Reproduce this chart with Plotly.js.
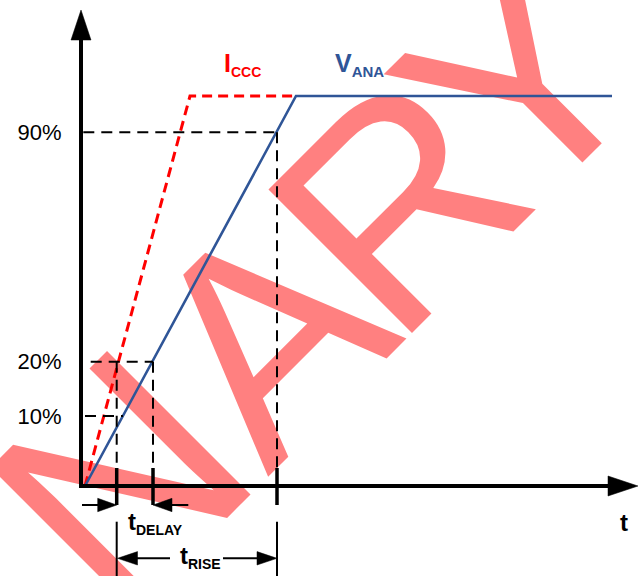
<!DOCTYPE html>
<html>
<head>
<meta charset="utf-8">
<script src="https://cdn.plot.ly/plotly-3.0.1.min.js"></script>
<style>html,body{margin:0;padding:0;background:#fff;}#chart{width:641px;height:576px;}</style>
</head>
<body>
<div id="chart"></div>
<script>
// ---- Signal shapes (time, level) in diagram units ----
const icccTime  = [4, 109, 213];
const icccLevel = [0, 390, 390];
const vanaTime  = [4, 215, 531];
const vanaLevel = [0, 390, 390];

// ---- Threshold levels (y axis ticks) ----
const levelLabels = ['10%', '20%', '90%'];
const levelValues = [70, 124.3, 353.7];

// ---- Marked instants ----
const tIccc20 = 35.7;   // ICCC crosses 20%
const tVana10 = 42;     // VANA crosses 10%
const tVana20 = 72;     // VANA crosses 20%
const tVana90 = 196;    // VANA crosses 90%

// ---- Watermark ----
const watermarkText = 'PRELIMINARY';
const watermarkAdvance = [0.517, 0.543, 0.488, 0.420, 0.252, 0.855, 0.252, 0.646, 0.579, 0.543, 0.487];

const W = 641, H = 576;
const X_RANGE = [-81, 560];
const Y_RANGE = [-90, 486];
const FONT = 'Liberation Sans, Arial, sans-serif';
const BLUE = '#2F5597';
const RED = '#FF0000';

const traces = [];
function line(x, y, color, width, dash) {
  traces.push({type: 'scatter', mode: 'lines', x: x, y: y,
    line: {color: color, width: width, dash: dash || 'solid'}, hoverinfo: 'skip'});
}
function head(tipX, tipY, dx, dy, len, half) {
  const bx = tipX - dx * len, by = tipY - dy * len;
  const px = -dy, py = dx;
  traces.push({type: 'scatter', mode: 'lines', fill: 'toself', fillcolor: '#000',
    x: [tipX, bx + px * half, bx - px * half, tipX],
    y: [tipY, by + py * half, by - py * half, tipY],
    line: {color: '#000', width: 0.5}, hoverinfo: 'skip'});
}

// Signals
line(icccTime, icccLevel, RED, 3, '10px,6px');
line(vanaTime, vanaLevel, BLUE, 2.6);

// Guide lines (dashed)
const G = '11px,7px';
line([2.3, tVana90], [levelValues[2], levelValues[2]], '#000', 2, G);
line([tVana90, tVana90], [levelValues[2], 18], '#000', 2, G);
line([9.7, tVana20], [levelValues[1], levelValues[1]], '#000', 2, G);
line([tIccc20, tIccc20], [levelValues[1], 18], '#000', 2, G);
line([tVana20, tVana20], [levelValues[1], 18], '#000', 2, G);
line([4, tVana10], [levelValues[0], levelValues[0]], '#000', 2, G);

// Bold markers crossing the time axis
[tIccc20, tVana20, tVana90].forEach(function (t) { line([t, t], [18, -19], '#000', 3.5); });
// Extension lines for tRISE
[tIccc20, tVana90].forEach(function (t) { line([t, t], [-35.7, -90], '#000', 2); });

// Axes with arrowheads
line([0, 0], [-2, 448], '#000', 4);
head(0, 476, 0, 1, 30, 10);
line([-2, 529], [0, 0], '#000', 4);
head(557, 0, 1, 0, 30, 10);

// tDELAY arrows
line([1, tIccc20 - 15], [-19, -19], '#000', 2);
head(tIccc20, -19, 1, 0, 19, 6.7);
line([tVana20 + 15, 107.3], [-19, -19], '#000', 2);
head(tVana20, -19, -1, 0, 19, 6.7);
// tRISE arrows
line([tIccc20 + 15, 89], [-72.3, -72.3], '#000', 2);
head(tIccc20 + 0.8, -72.3, -1, 0, 20, 6.7);
line([142, tVana90 - 15], [-72.3, -72.3], '#000', 2);
head(tVana90, -72.3, 1, 0, 20, 6.7);

// Watermark letters (drawn below all traces); only letters that reach the page
const shapes = [];
(function () {
  const em = 335, k = 130, c = Math.SQRT1_2, m = 60;
  const centers = [];
  let acc = 0;
  watermarkAdvance.forEach(function (a) { centers.push(acc + a / 2); acc += a; });
  const last = centers[centers.length - 1];
  const anchorX = 592.2, anchorY = 152.8; // baseline centre of final letter (px)
  watermarkText.split('').forEach(function (ch, i) {
    const s = (centers[i] - last) * em;
    const bx = anchorX + s * c, by = anchorY - s * c;
    if (bx < -m || bx > W + m || by < -m || by > H + m) return;
    const cx = bx - k * c, cy = by - k * c;
    const xp = cx / W, yp = 1 - cy / H;
    shapes.push({type: 'rect', xref: 'paper', yref: 'paper', layer: 'below',
      x0: xp - 0.0005, x1: xp + 0.0005, y0: yp - 0.0005, y1: yp + 0.0005,
      line: {width: 0}, fillcolor: 'rgba(0,0,0,0)',
      label: {text: ch, textangle: -45, textposition: 'middle center',
        xanchor: 'center', yanchor: 'middle', padding: 0,
        font: {family: FONT, size: 295, color: '#FF8080'}}});
  });
})();

const annotations = [
  {x: 140.7, y: 421.5, xanchor: 'left', yanchor: 'middle',
   text: '<b>I<sub><span style="font-size:14px">CCC</span></sub></b>',
   font: {family: FONT, size: 25, color: RED}},
  {x: 252, y: 421.5, xanchor: 'left', yanchor: 'middle',
   text: '<b>V<sub><span style="font-size:15px">ANA</span></sub></b>',
   font: {family: FONT, size: 25, color: BLUE}},
  {x: 44.8, y: -37.2, xanchor: 'left', yanchor: 'middle',
   text: '<b>t<sub><span style="font-size:14px">DELAY</span></sub></b>',
   font: {family: FONT, size: 24, color: '#000'}},
  {x: 96.5, y: -70.5, xanchor: 'left', yanchor: 'middle',
   text: '<b>t<sub><span style="font-size:14px">RISE</span></sub></b>',
   font: {family: FONT, size: 24, color: '#000'}},
  {x: 543, y: -36.4, xanchor: 'center', yanchor: 'middle',
   text: '<b>t</b>', font: {family: FONT, size: 24, color: '#000'}}
].map(function (a) { return Object.assign({xref: 'x', yref: 'y', showarrow: false}, a); });

const layout = {
  width: W, height: H, autosize: false,
  margin: {l: 0, r: 0, t: 0, b: 0, pad: 0},
  paper_bgcolor: '#fff', plot_bgcolor: 'rgba(0,0,0,0)',
  showlegend: false, hovermode: false,
  xaxis: {range: X_RANGE, showgrid: false, zeroline: false, showline: false,
          showticklabels: false, ticks: '', fixedrange: true},
  yaxis: {range: Y_RANGE, showgrid: false, zeroline: false, showline: false,
          anchor: 'free', position: 81 / W, side: 'left',
          tickmode: 'array', tickvals: levelValues, ticktext: levelLabels,
          ticks: 'outside', ticklen: 15, tickcolor: 'rgba(0,0,0,0)',
          tickfont: {family: FONT, size: 22, color: '#000'}, fixedrange: true},
  shapes: shapes,
  annotations: annotations
};

Plotly.newPlot('chart', traces, layout, {staticPlot: true, displayModeBar: false});
</script>
</body>
</html>
